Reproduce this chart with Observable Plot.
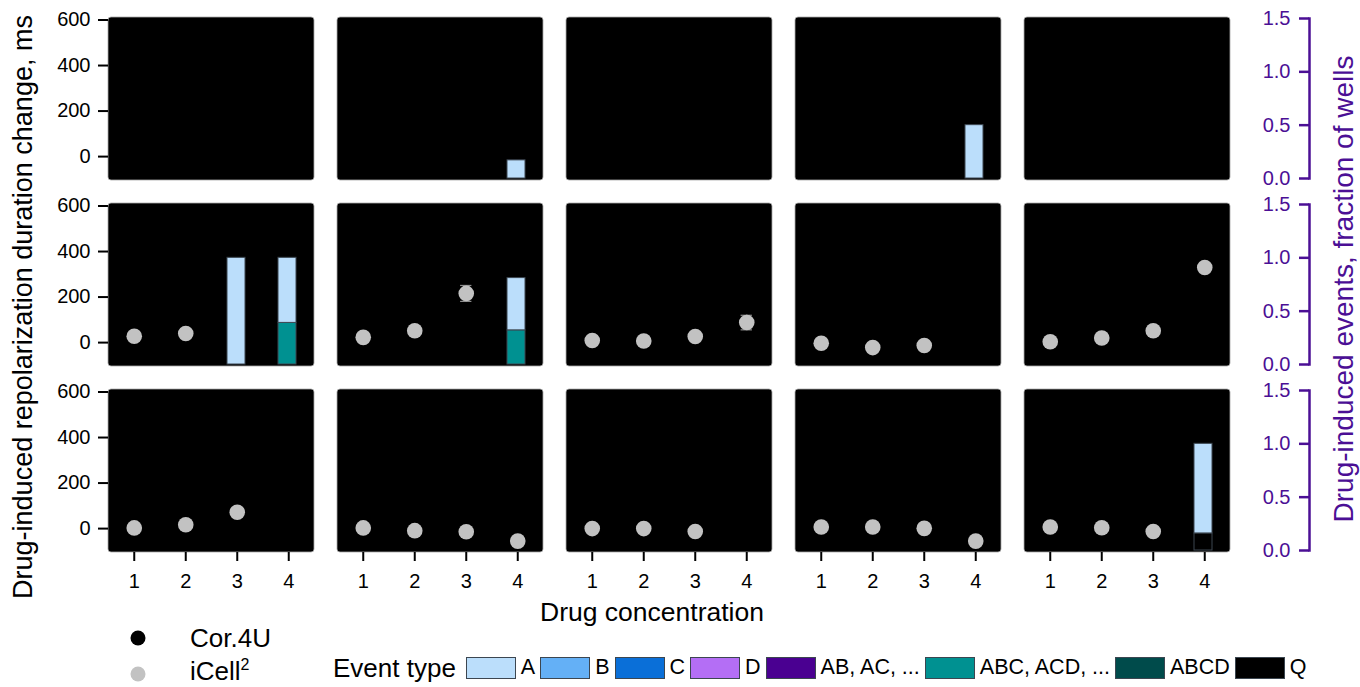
<!DOCTYPE html>
<html>
<head>
<meta charset="utf-8">
<script src="https://cdn.jsdelivr.net/npm/d3@7"></script>
<script src="https://cdn.jsdelivr.net/npm/@observablehq/plot@0.6"></script>
<style>
  body { margin: 0; background: #fff; font-family: "Liberation Sans", Arial, sans-serif; }
  #wrap { position: relative; width: 1360px; height: 687px; overflow: hidden; }
  #wrap svg { position: absolute; left: 0; top: 0; }
  .t { position: absolute; white-space: nowrap; line-height: 1; color: #000; }
  .c { transform: translate(-50%, -50%); }
  .r { transform: translate(-50%, -50%) rotate(-90deg); }
  .ml { transform: translate(0, -50%); }
  #events { position: absolute; left: 333px; top: 668px; transform: translate(0, -50%);
            display: flex; align-items: center; gap: 5px; font-size: 21.5px; line-height: 1; }
  #events .title { font-size: 26px; margin-right: 5px; }
  #events .item { display: flex; align-items: center; gap: 5px; }
  #events .sw { width: 50px; height: 22px; box-sizing: border-box; border: 1px solid #3c4650; }
  .dot { position: absolute; width: 15px; height: 15px; border-radius: 50%; transform: translate(-50%, -50%); }
</style>
</head>
<body>
<div id="wrap"></div>
<script>
// Panel grid: five drugs across, three rows
const cols = [1, 2, 3, 4, 5];
const rows = [1, 2, 3];
const concentrations = [1, 2, 3, 4];

// Repolarization duration change (ms), iCell2, one array per drug within each row
const apdRow1 = [
  [null, null, null, null],
  [null, null, null, null],
  [null, null, null, null],
  [null, null, null, null],
  [null, null, null, null]
];
const apdRow2 = [
  [28, 40, null, null],
  [23, 52, 216, null],
  [9, 7, 27, 88],
  [-3, -22, -13, null],
  [4, 20, 52, 330]
];
const apdRow3 = [
  [3, 17, 72, null],
  [3, -9, -14, -55],
  [0, 0, -13, null],
  [7, 7, 1, -55],
  [7, 4, -13, null]
];
// Standard error of the change (ms)
const errRow2 = [
  [0, 0, 0, 0],
  [0, 0, 35, 0],
  [0, 0, 0, 32],
  [0, 0, 0, 0],
  [0, 0, 0, 0]
];

// Drug-induced events, fraction of wells (stacked in listed order)
const eventCol  = [2, 4, 1, 1, 1, 2, 2, 5, 5];
const eventRow  = [1, 1, 2, 2, 2, 2, 2, 3, 3];
const eventConc = [4, 4, 3, 4, 4, 4, 4, 4, 4];
const eventType = ["A", "A", "A", "ABC, ACD, ...", "A", "ABC, ACD, ...", "A", "Q", "A"];
const eventFrac = [0.17, 0.5, 1.0, 0.39, 0.61, 0.32, 0.49, 0.16, 0.84];

// Event categories and their fills
const eventTypes  = ["A", "B", "C", "D", "AB, AC, ...", "ABC, ACD, ...", "ABCD", "Q"];
const eventColors = ["#bbdefb", "#64b0f6", "#0a6fd8", "#b46ef5", "#4a0091", "#009191", "#004b4b", "#000000"];

const purple = "#4b0f95";
const fontFamily = "Liberation Sans, Arial, sans-serif";

// Tidy tables built from the arrays above
const panels = rows.flatMap(row => cols.map(col => ({row, col})));
const apdByRow = {1: apdRow1, 2: apdRow2, 3: apdRow3};
const errByRow = {2: errRow2};
const points = [];
for (const row of rows) {
  cols.forEach((col, i) => {
    concentrations.forEach((conc, k) => {
      const v = apdByRow[row][i][k];
      if (v == null) return;
      const err = errByRow[row] ? errByRow[row][i][k] : 0;
      points.push({row, col, conc, v, err});
    });
  });
}
const events = eventCol.map((col, i) => ({
  col, row: eventRow[i], conc: eventConc[i], type: eventType[i], frac: eventFrac[i]
}));
const errPoints = points.filter(d => d.err > 0);

// Shared facet layout so the two layers line up exactly
const W = 1360, H = 626;
const layout = {
  width: W, height: H,
  marginLeft: 106, marginRight: 128, marginTop: 16, marginBottom: H - 553,
  fx: {domain: cols, paddingInner: 0.099, paddingOuter: 0, axis: null},
  fy: {domain: rows, paddingInner: 0.124, paddingOuter: 0, axis: null},
  style: {fontFamily, background: "transparent", overflow: "visible"}
};

// Bottom layer: black panels, stacked event bars, fraction axis on the right
const eventsPlot = Plot.plot({
  ...layout,
  x: {type: "band", domain: concentrations, paddingInner: 0.646, paddingOuter: 0.323, axis: null},
  y: {domain: [0, 1.5], insetTop: 1, insetBottom: 2, axis: null},
  color: {domain: eventTypes, range: eventColors},
  marks: [
    Plot.rect(panels, {fx: "col", fy: "row", fill: "black", rx: 3}),
    Plot.barY(events, {fx: "col", fy: "row", x: "conc", y: "frac", fill: "type",
                       stroke: "#3c4650", strokeWidth: 1}),
    Plot.axisY({anchor: "left", facetAnchor: "right", dx: 285, ticks: [0, 0.5, 1, 1.5],
                tickFormat: d3.format(".1f"), tickSize: 10, tickPadding: 9,
                color: purple, strokeWidth: 2.5, fontSize: 20, label: null}),
    Plot.frame({anchor: "left", facetAnchor: "right", dx: 285, stroke: purple, strokeWidth: 2.5,
                insetTop: 1, insetBottom: 2})
  ]
});

// Top layer: iCell2 points with error bars, ms axis and concentration axis
const apdPlot = Plot.plot({
  ...layout,
  x: {domain: [0.5, 4.5], axis: null},
  y: {domain: [-105, 611], axis: null},
  marks: [
    Plot.rect(panels, {fx: "col", fy: "row", fill: "none", stroke: "#a8a8a8", strokeWidth: 0.8, rx: 3}),
    Plot.ruleX(errPoints, {fx: "col", fy: "row", x: "conc", y1: d => d.v - d.err, y2: d => d.v + d.err,
                           stroke: "#8c8c8c", strokeWidth: 1.2}),
    Plot.ruleY(errPoints, {fx: "col", fy: "row", x1: d => d.conc - 0.11, x2: d => d.conc + 0.11,
                           y: d => d.v + d.err, stroke: "#8c8c8c", strokeWidth: 1.2}),
    Plot.ruleY(errPoints, {fx: "col", fy: "row", x1: d => d.conc - 0.11, x2: d => d.conc + 0.11,
                           y: d => d.v - d.err, stroke: "#8c8c8c", strokeWidth: 1.2}),
    Plot.dot(points, {fx: "col", fy: "row", x: "conc", y: "v", r: 7.8, fill: "#c2c2c2"}),
    Plot.axisY({anchor: "left", facetAnchor: "left", ticks: [0, 200, 400, 600],
                tickSize: 10, tickPadding: 8, strokeWidth: 2, fontSize: 20, label: null}),
    Plot.axisX({anchor: "bottom", facetAnchor: "bottom", ticks: concentrations, tickFormat: "d",
                tickSize: 9, tickPadding: 12, strokeWidth: 2, fontSize: 20, label: null})
  ]
});

const wrap = document.getElementById("wrap");
wrap.append(eventsPlot, apdPlot);

// Axis titles
function addText(html, x, y, cls, style = "") {
  const el = document.createElement("div");
  el.className = "t " + cls;
  el.style.cssText = `left:${x}px;top:${y}px;${style}`;
  el.innerHTML = html;
  wrap.append(el);
  return el;
}
addText("Drug-induced repolarization duration change, ms", 23, 307, "r", "font-size:27px;");
addText("Drug-induced events, fraction of wells", 1344, 289, "r", `font-size:28px;line-height:0.9;color:${purple};`);
addText("Drug concentration", 652, 612, "c", "font-size:26.5px;");

// Cell-line legend
const cellLines = ["Cor.4U", "iCell<sup style=\"font-size:16px;vertical-align:10px;line-height:0\">2</sup>"];
const cellColors = ["#000000", "#c2c2c2"];
const cellY = [638, 674];
const cellTextY = [638, 671];
cellLines.forEach((name, i) => {
  const d = document.createElement("div");
  d.className = "dot";
  d.style.cssText = `left:138px;top:${cellY[i]}px;background:${cellColors[i]};`;
  wrap.append(d);
  addText(name, 190, cellTextY[i], "ml", "font-size:26px;line-height:0.8;");
});

// Event type legend
const ev = document.createElement("div");
ev.id = "events";
ev.innerHTML = `<span class="title">Event type</span>` + eventTypes.map((t, i) =>
  `<span class="item"><span class="sw" style="background:${eventColors[i]}"></span><span>${t}</span></span>`
).join("");
wrap.append(ev);
</script>
</body>
</html>
